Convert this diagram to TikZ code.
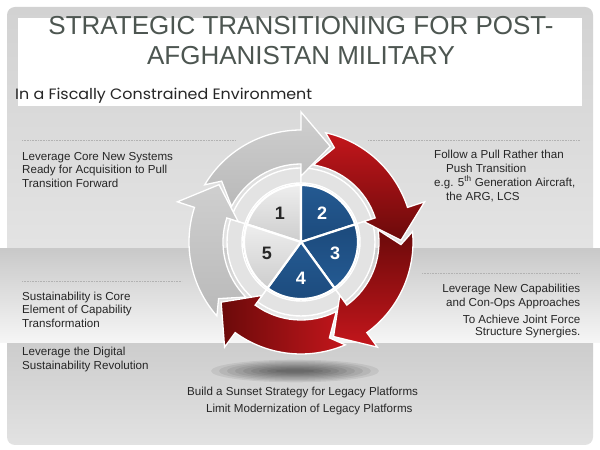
\documentclass[tikz,border=0pt]{standalone}
\usepackage{fontspec}
\setmainfont{Liberation Sans}
\newfontfamily\subfont{Poppins}
\usetikzlibrary{calc}
\definecolor{titlecol}{HTML}{4D5651}
\definecolor{bodycol}{HTML}{262626}
\definecolor{bgA}{HTML}{D2D2D2}
\definecolor{bgB}{HTML}{E4E4E4}
\definecolor{bandA}{HTML}{C9C9C9}
\definecolor{bandB}{HTML}{F6F6F6}
\definecolor{botA}{HTML}{CBCBCB}
\definecolor{botB}{HTML}{E2E2E2}
\definecolor{redB}{HTML}{C4161C}
\definecolor{redD}{HTML}{6B0A0A}
\definecolor{blueA}{HTML}{1C4A7C}
\definecolor{blueB}{HTML}{245A92}
\definecolor{grayA}{HTML}{B9B9B9}
\definecolor{grayB}{HTML}{CFCFCF}
\definecolor{ringcol}{HTML}{E3E3E3}
\definecolor{pieA}{HTML}{EEEEEE}
\definecolor{pieB}{HTML}{CDCDCD}
\newcommand\cyclearrow[2]{%
  \pgfmathsetmacro\tB{#1+17}%
  \pgfmathsetmacro\tP{#1+72}%
  \pgfmathsetmacro\tOc{\tP+6.8-2.5}%
  \pgfmathsetmacro\tIc{\tP+10.4-2.5}%
  \pgfmathsetmacro\tAp{\tP-2.5}%
  \path[cyc,#2] ($(C)+(\tOc:112)$) arc[start angle=\tOc, end angle=\tB, radius=112]
    -- ($(C)+(\tB:130)$) -- ($(C)+(#1:100)$) -- ($(C)+(\tB:66)$) -- ($(C)+(\tB:78)$)
    arc[start angle=\tB, end angle=\tIc, radius=78] -- ($(C)+(\tAp:100)$) -- cycle;
}
\begin{document}
\begin{tikzpicture}[x=1pt,y=1pt,
  body/.style={inner sep=0pt, font=\fontsize{11.6}{13.8}\selectfont, text=bodycol},
  dotline/.style={draw=gray!60, line width=0.7pt, dash pattern=on 0.5pt off 1.1pt},
  seg/.style={draw=white, line width=2.2pt},
  ringseg/.style={fill=ringcol, draw=white, line width=1.4pt},
  cyc/.style={draw=white, line width=1.3pt, line join=miter},
  num/.style={font=\fontsize{18}{18}\selectfont\bfseries, inner sep=0pt}]
\useasboundingbox (0,0) rectangle (600,450);
\fill[white] (0,0) rectangle (600,450);
% background panels
\shade[top color=bgA, bottom color=bgB, rounded corners=8pt] (7,190) rectangle (593,443);
\fill[white] (18,344) rectangle (582,432);
\shade[top color=botA, bottom color=botB, rounded corners=8pt] (7,5) rectangle (593,115);
\shade[top color=bandA, bottom color=bandB] (0,107) rectangle (600,201);
% title
\node[inner sep=0pt, anchor=base, text=titlecol, font=\fontsize{26}{30}\selectfont] (title1) at (301,415) {STRATEGIC TRANSITIONING FOR POST-};
\node[inner sep=0pt, anchor=base, text=titlecol, font=\fontsize{26}{30}\selectfont] (title2) at (301,385) {AFGHANISTAN MILITARY};
\node[inner sep=0pt, anchor=base west, text=bodycol] (subtitle) at (15,350) {\resizebox{297pt}{\height}{\subfont\fontsize{15}{18}\selectfont In a Fiscally Constrained Environment}};
% dotted rules
\coordinate (d1a) at (22,310); \coordinate (d1b) at (235,310);
\coordinate (d2a) at (368,310); \coordinate (d2b) at (580,310);
\coordinate (d3a) at (22,168.5); \coordinate (d3b) at (182,168.5);
\coordinate (d4a) at (422,176.7); \coordinate (d4b) at (580,176.7);
\draw[dotline] (d1a) -- (d1b);
\draw[dotline] (d2a) -- (d2b);
\draw[dotline] (d3a) -- (d3b);
\draw[dotline] (d4a) -- (d4b);
% side texts
\node[body, anchor=base west] (lt1) at (22,289.3) {Leverage Core New Systems};
\node[body, anchor=base west] (lt2) at (22,276) {Ready for Acquisition to Pull};
\node[body, anchor=base west] (lt3) at (22,262.7) {Transition Forward};
\node[body, anchor=base west] (rt1) at (434,291.7) {Follow a Pull Rather than};
\node[body, anchor=base west] (rt2) at (446,277.7) {Push Transition};
\node[body, anchor=base west] (rt3) at (434,263.7) {e.g. 5\textsuperscript{th} Generation Aircraft,};
\node[body, anchor=base west] (rt4) at (446,249.3) {the ARG, LCS};
\node[body, anchor=base west] (lm1) at (22,149.3) {Sustainability is Core};
\node[body, anchor=base west] (lm2) at (22,136) {Element of Capability};
\node[body, anchor=base west] (lm3) at (22,122.7) {Transformation};
\node[body, anchor=base west] (lm4) at (22,94.3) {Leverage the Digital};
\node[body, anchor=base west] (lm5) at (22,80.3) {Sustainability Revolution};
\node[body, anchor=base east] (rm1) at (580.5,157) {Leverage New Capabilities};
\node[body, anchor=base east] (rm2) at (580.5,143.7) {and Con-Ops Approaches};
\node[body, anchor=base east] (rm3) at (580.5,126.7) {To Achieve Joint Force};
\node[body, anchor=base east] (rm4) at (580.5,114.3) {Structure Synergies.};
\node[body, anchor=base west] (bt1) at (187,54) {Build a Sunset Strategy for Legacy Platforms};
\node[body, anchor=base west] (bt2) at (206,37) {Limit Modernization of Legacy Platforms};
% shadow
\coordinate (S) at (295,79);
\foreach \k in {1,...,9}
  \fill[black, opacity=0.07] (S) ellipse [x radius={92-8*\k}, y radius={12.5-1.2*\k}];
% centre
\coordinate (C) at (301,208);
% ring segments
\foreach \a/\b in {90/162, 18/90, -54/18, -126/-54, 162/234}
  \path[ringseg] ($(C)+(\a:74)$) arc[start angle=\a, end angle=\b, radius=74]
     -- ($(C)+(\b:59)$) arc[start angle=\b, end angle=\a, radius=59] -- cycle;
% pie
\path[seg, top color=pieA, bottom color=pieB] (C) -- ($(C)+(90:57)$) arc[start angle=90, end angle=162, radius=57] -- cycle;
\path[seg, top color=blueB, bottom color=blueA] (C) -- ($(C)+(18:57)$) arc[start angle=18, end angle=90, radius=57] -- cycle;
\path[seg, top color=blueA, bottom color=blueB] (C) -- ($(C)+(-54:57)$) arc[start angle=-54, end angle=18, radius=57] -- cycle;
\path[seg, top color=blueB, bottom color=blueA] (C) -- ($(C)+(-126:57)$) arc[start angle=-126, end angle=-54, radius=57] -- cycle;
\path[seg, top color=pieA, bottom color=pieB] (C) -- ($(C)+(162:57)$) arc[start angle=162, end angle=234, radius=57] -- cycle;
% arrows
\cyclearrow{73}{top color=grayB, bottom color=grayA}
\cyclearrow{1}{top color=redB, bottom color=redD}
\cyclearrow{-71}{top color=redD, bottom color=redB}
\cyclearrow{-143}{left color=redD, right color=redB}
\cyclearrow{-215}{top color=grayB, bottom color=grayA}
% numbers
\node[num, text=bodycol] (n1) at ($(C)+(126:36)$) {1};
\node[num, text=white] (n2) at ($(C)+(54:36)$) {2};
\node[num, text=white] (n3) at ($(C)+(-18:36)$) {3};
\node[num, text=white] (n4) at ($(C)+(-90:36)$) {4};
\node[num, text=bodycol] (n5) at ($(C)+(198:36)$) {5};
\end{tikzpicture}
\end{document}
